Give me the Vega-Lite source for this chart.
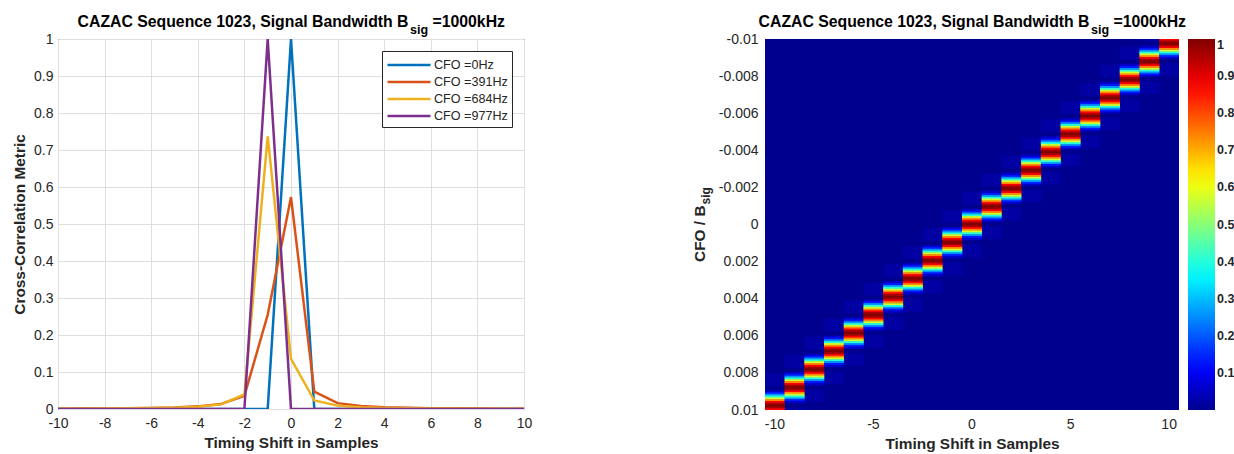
{
  "$schema": "https://vega.github.io/schema/vega-lite/v6.json",
  "background": "white",
  "padding": {"left": 12, "top": 13, "right": 0, "bottom": 0},
  "spacing": 159,
  "config": {
    "font": "Liberation Sans",
    "view": {"stroke": null},
    "axis": {
      "labelFont": "Liberation Sans",
      "labelFontSize": 14,
      "labelColor": "#262626",
      "labelOverlap": false,
      "labelFlush": false,
      "titleFont": "Liberation Sans",
      "titleFontSize": 15.4,
      "titleFontWeight": "bold",
      "titleColor": "#262626",
      "ticks": false,
      "domain": false
    }
  },
  "datasets": {
    "lines": [
      {"x": -10, "y": 0, "s": "CFO =0Hz"}, {"x": -9, "y": 0, "s": "CFO =0Hz"}, {"x": -8, "y": 0, "s": "CFO =0Hz"}, {"x": -7, "y": 0, "s": "CFO =0Hz"}, {"x": -6, "y": 0, "s": "CFO =0Hz"}, {"x": -5, "y": 0, "s": "CFO =0Hz"}, {"x": -4, "y": 0, "s": "CFO =0Hz"}, {"x": -3, "y": 0, "s": "CFO =0Hz"}, {"x": -2, "y": 0, "s": "CFO =0Hz"}, {"x": -1, "y": 0, "s": "CFO =0Hz"}, {"x": 0, "y": 1, "s": "CFO =0Hz"}, {"x": 1, "y": 0, "s": "CFO =0Hz"}, {"x": 2, "y": 0, "s": "CFO =0Hz"}, {"x": 3, "y": 0, "s": "CFO =0Hz"}, {"x": 4, "y": 0, "s": "CFO =0Hz"}, {"x": 5, "y": 0, "s": "CFO =0Hz"}, {"x": 6, "y": 0, "s": "CFO =0Hz"}, {"x": 7, "y": 0, "s": "CFO =0Hz"}, {"x": 8, "y": 0, "s": "CFO =0Hz"}, {"x": 9, "y": 0, "s": "CFO =0Hz"}, {"x": 10, "y": 0, "s": "CFO =0Hz"},
      {"x": -10, "y": 0.001, "s": "CFO =391Hz"}, {"x": -9, "y": 0.0012, "s": "CFO =391Hz"}, {"x": -8, "y": 0.0016, "s": "CFO =391Hz"}, {"x": -7, "y": 0.0021, "s": "CFO =391Hz"}, {"x": -6, "y": 0.0029, "s": "CFO =391Hz"}, {"x": -5, "y": 0.0043, "s": "CFO =391Hz"}, {"x": -4, "y": 0.0071, "s": "CFO =391Hz"}, {"x": -3, "y": 0.0136, "s": "CFO =391Hz"}, {"x": -2, "y": 0.0358, "s": "CFO =391Hz"}, {"x": -1, "y": 0.2546, "s": "CFO =391Hz"}, {"x": 0, "y": 0.5728, "s": "CFO =391Hz"}, {"x": 1, "y": 0.0468, "s": "CFO =391Hz"}, {"x": 2, "y": 0.0159, "s": "CFO =391Hz"}, {"x": 3, "y": 0.0079, "s": "CFO =391Hz"}, {"x": 4, "y": 0.0047, "s": "CFO =391Hz"}, {"x": 5, "y": 0.0031, "s": "CFO =391Hz"}, {"x": 6, "y": 0.0022, "s": "CFO =391Hz"}, {"x": 7, "y": 0.0017, "s": "CFO =391Hz"}, {"x": 8, "y": 0.0013, "s": "CFO =391Hz"}, {"x": 9, "y": 0.001, "s": "CFO =391Hz"}, {"x": 10, "y": 0.0009, "s": "CFO =391Hz"},
      {"x": -10, "y": 0.0008, "s": "CFO =684Hz"}, {"x": -9, "y": 0.001, "s": "CFO =684Hz"}, {"x": -8, "y": 0.0012, "s": "CFO =684Hz"}, {"x": -7, "y": 0.0017, "s": "CFO =684Hz"}, {"x": -6, "y": 0.0024, "s": "CFO =684Hz"}, {"x": -5, "y": 0.0036, "s": "CFO =684Hz"}, {"x": -4, "y": 0.0061, "s": "CFO =684Hz"}, {"x": -3, "y": 0.0125, "s": "CFO =684Hz"}, {"x": -2, "y": 0.0392, "s": "CFO =684Hz"}, {"x": -1, "y": 0.7368, "s": "CFO =684Hz"}, {"x": 0, "y": 0.1353, "s": "CFO =684Hz"}, {"x": 1, "y": 0.023, "s": "CFO =684Hz"}, {"x": 2, "y": 0.0091, "s": "CFO =684Hz"}, {"x": 3, "y": 0.0049, "s": "CFO =684Hz"}, {"x": 4, "y": 0.003, "s": "CFO =684Hz"}, {"x": 5, "y": 0.002, "s": "CFO =684Hz"}, {"x": 6, "y": 0.0015, "s": "CFO =684Hz"}, {"x": 7, "y": 0.0011, "s": "CFO =684Hz"}, {"x": 8, "y": 0.0009, "s": "CFO =684Hz"}, {"x": 9, "y": 0.0007, "s": "CFO =684Hz"}, {"x": 10, "y": 0.0006, "s": "CFO =684Hz"},
      {"x": -10, "y": 0, "s": "CFO =977Hz"}, {"x": -9, "y": 0, "s": "CFO =977Hz"}, {"x": -8, "y": 0, "s": "CFO =977Hz"}, {"x": -7, "y": 0, "s": "CFO =977Hz"}, {"x": -6, "y": 0, "s": "CFO =977Hz"}, {"x": -5, "y": 0, "s": "CFO =977Hz"}, {"x": -4, "y": 0, "s": "CFO =977Hz"}, {"x": -3, "y": 0, "s": "CFO =977Hz"}, {"x": -2, "y": 0, "s": "CFO =977Hz"}, {"x": -1, "y": 1, "s": "CFO =977Hz"}, {"x": 0, "y": 0, "s": "CFO =977Hz"}, {"x": 1, "y": 0, "s": "CFO =977Hz"}, {"x": 2, "y": 0, "s": "CFO =977Hz"}, {"x": 3, "y": 0, "s": "CFO =977Hz"}, {"x": 4, "y": 0, "s": "CFO =977Hz"}, {"x": 5, "y": 0, "s": "CFO =977Hz"}, {"x": 6, "y": 0, "s": "CFO =977Hz"}, {"x": 7, "y": 0, "s": "CFO =977Hz"}, {"x": 8, "y": 0, "s": "CFO =977Hz"}, {"x": 9, "y": 0, "s": "CFO =977Hz"}, {"x": 10, "y": 0, "s": "CFO =977Hz"}
    ],
    "side": [
      {"t": -10, "f": 0.008358, "v": 0.02},
      {"t": -9, "f": 0.007381, "v": 0.02}, {"t": -9, "f": 0.010215, "v": 0.02},
      {"t": -8, "f": 0.006403, "v": 0.02}, {"t": -8, "f": 0.009237, "v": 0.02},
      {"t": -7, "f": 0.005426, "v": 0.02}, {"t": -7, "f": 0.00826, "v": 0.02},
      {"t": -6, "f": 0.004448, "v": 0.02}, {"t": -6, "f": 0.007282, "v": 0.02},
      {"t": -5, "f": 0.003471, "v": 0.02}, {"t": -5, "f": 0.006305, "v": 0.02},
      {"t": -4, "f": 0.002493, "v": 0.02}, {"t": -4, "f": 0.005327, "v": 0.02},
      {"t": -3, "f": 0.001516, "v": 0.02}, {"t": -3, "f": 0.00435, "v": 0.02},
      {"t": -2, "f": 0.000538, "v": 0.02}, {"t": -2, "f": 0.003372, "v": 0.02},
      {"t": -1, "f": -0.000439, "v": 0.02}, {"t": -1, "f": 0.002395, "v": 0.02},
      {"t": 0, "f": -0.001417, "v": 0.02}, {"t": 0, "f": 0.001417, "v": 0.02},
      {"t": 1, "f": -0.002395, "v": 0.02}, {"t": 1, "f": 0.000439, "v": 0.02},
      {"t": 2, "f": -0.003372, "v": 0.02}, {"t": 2, "f": -0.000538, "v": 0.02},
      {"t": 3, "f": -0.00435, "v": 0.02}, {"t": 3, "f": -0.001516, "v": 0.02},
      {"t": 4, "f": -0.005327, "v": 0.02}, {"t": 4, "f": -0.002493, "v": 0.02},
      {"t": 5, "f": -0.006305, "v": 0.02}, {"t": 5, "f": -0.003471, "v": 0.02},
      {"t": 6, "f": -0.007282, "v": 0.02}, {"t": 6, "f": -0.004448, "v": 0.02},
      {"t": 7, "f": -0.00826, "v": 0.02}, {"t": 7, "f": -0.005426, "v": 0.02},
      {"t": 8, "f": -0.009237, "v": 0.02}, {"t": 8, "f": -0.006403, "v": 0.02},
      {"t": 9, "f": -0.010215, "v": 0.02}, {"t": 9, "f": -0.007381, "v": 0.02},
      {"t": 10, "f": -0.008358, "v": 0.02}
    ],
    "heat": [
      {"t": -10, "f": 0.008993, "v": 0.055}, {"t": -10, "f": 0.009091, "v": 0.135}, {"t": -10, "f": 0.009189, "v": 0.255}, {"t": -10, "f": 0.009286, "v": 0.405}, {"t": -10, "f": 0.009384, "v": 0.573}, {"t": -10, "f": 0.009482, "v": 0.737}, {"t": -10, "f": 0.00958, "v": 0.875}, {"t": -10, "f": 0.009677, "v": 0.968}, {"t": -10, "f": 0.009775, "v": 1}, {"t": -10, "f": 0.009873, "v": 0.968}, {"t": -10, "f": 0.009971, "v": 0.875},
      {"t": -9, "f": 0.008016, "v": 0.055}, {"t": -9, "f": 0.008113, "v": 0.135}, {"t": -9, "f": 0.008211, "v": 0.255}, {"t": -9, "f": 0.008309, "v": 0.405}, {"t": -9, "f": 0.008407, "v": 0.573}, {"t": -9, "f": 0.008504, "v": 0.737}, {"t": -9, "f": 0.008602, "v": 0.875}, {"t": -9, "f": 0.0087, "v": 0.968}, {"t": -9, "f": 0.008798, "v": 1}, {"t": -9, "f": 0.008895, "v": 0.968}, {"t": -9, "f": 0.008993, "v": 0.875}, {"t": -9, "f": 0.009091, "v": 0.737}, {"t": -9, "f": 0.009189, "v": 0.573}, {"t": -9, "f": 0.009286, "v": 0.405}, {"t": -9, "f": 0.009384, "v": 0.255}, {"t": -9, "f": 0.009482, "v": 0.135}, {"t": -9, "f": 0.00958, "v": 0.055},
      {"t": -8, "f": 0.007038, "v": 0.055}, {"t": -8, "f": 0.007136, "v": 0.135}, {"t": -8, "f": 0.007234, "v": 0.255}, {"t": -8, "f": 0.007331, "v": 0.405}, {"t": -8, "f": 0.007429, "v": 0.573}, {"t": -8, "f": 0.007527, "v": 0.737}, {"t": -8, "f": 0.007625, "v": 0.875}, {"t": -8, "f": 0.007722, "v": 0.968}, {"t": -8, "f": 0.00782, "v": 1}, {"t": -8, "f": 0.007918, "v": 0.968}, {"t": -8, "f": 0.008016, "v": 0.875}, {"t": -8, "f": 0.008113, "v": 0.737}, {"t": -8, "f": 0.008211, "v": 0.573}, {"t": -8, "f": 0.008309, "v": 0.405}, {"t": -8, "f": 0.008407, "v": 0.255}, {"t": -8, "f": 0.008504, "v": 0.135}, {"t": -8, "f": 0.008602, "v": 0.055},
      {"t": -7, "f": 0.006061, "v": 0.055}, {"t": -7, "f": 0.006158, "v": 0.135}, {"t": -7, "f": 0.006256, "v": 0.255}, {"t": -7, "f": 0.006354, "v": 0.405}, {"t": -7, "f": 0.006452, "v": 0.573}, {"t": -7, "f": 0.006549, "v": 0.737}, {"t": -7, "f": 0.006647, "v": 0.875}, {"t": -7, "f": 0.006745, "v": 0.968}, {"t": -7, "f": 0.006843, "v": 1}, {"t": -7, "f": 0.00694, "v": 0.968}, {"t": -7, "f": 0.007038, "v": 0.875}, {"t": -7, "f": 0.007136, "v": 0.737}, {"t": -7, "f": 0.007234, "v": 0.573}, {"t": -7, "f": 0.007331, "v": 0.405}, {"t": -7, "f": 0.007429, "v": 0.255}, {"t": -7, "f": 0.007527, "v": 0.135}, {"t": -7, "f": 0.007625, "v": 0.055},
      {"t": -6, "f": 0.005083, "v": 0.055}, {"t": -6, "f": 0.005181, "v": 0.135}, {"t": -6, "f": 0.005279, "v": 0.255}, {"t": -6, "f": 0.005376, "v": 0.405}, {"t": -6, "f": 0.005474, "v": 0.573}, {"t": -6, "f": 0.005572, "v": 0.737}, {"t": -6, "f": 0.00567, "v": 0.875}, {"t": -6, "f": 0.005767, "v": 0.968}, {"t": -6, "f": 0.005865, "v": 1}, {"t": -6, "f": 0.005963, "v": 0.968}, {"t": -6, "f": 0.006061, "v": 0.875}, {"t": -6, "f": 0.006158, "v": 0.737}, {"t": -6, "f": 0.006256, "v": 0.573}, {"t": -6, "f": 0.006354, "v": 0.405}, {"t": -6, "f": 0.006452, "v": 0.255}, {"t": -6, "f": 0.006549, "v": 0.135}, {"t": -6, "f": 0.006647, "v": 0.055},
      {"t": -5, "f": 0.004106, "v": 0.055}, {"t": -5, "f": 0.004203, "v": 0.135}, {"t": -5, "f": 0.004301, "v": 0.255}, {"t": -5, "f": 0.004399, "v": 0.405}, {"t": -5, "f": 0.004497, "v": 0.573}, {"t": -5, "f": 0.004594, "v": 0.737}, {"t": -5, "f": 0.004692, "v": 0.875}, {"t": -5, "f": 0.00479, "v": 0.968}, {"t": -5, "f": 0.004888, "v": 1}, {"t": -5, "f": 0.004985, "v": 0.968}, {"t": -5, "f": 0.005083, "v": 0.875}, {"t": -5, "f": 0.005181, "v": 0.737}, {"t": -5, "f": 0.005279, "v": 0.573}, {"t": -5, "f": 0.005376, "v": 0.405}, {"t": -5, "f": 0.005474, "v": 0.255}, {"t": -5, "f": 0.005572, "v": 0.135}, {"t": -5, "f": 0.00567, "v": 0.055},
      {"t": -4, "f": 0.003128, "v": 0.055}, {"t": -4, "f": 0.003226, "v": 0.135}, {"t": -4, "f": 0.003324, "v": 0.255}, {"t": -4, "f": 0.003421, "v": 0.405}, {"t": -4, "f": 0.003519, "v": 0.573}, {"t": -4, "f": 0.003617, "v": 0.737}, {"t": -4, "f": 0.003715, "v": 0.875}, {"t": -4, "f": 0.003812, "v": 0.968}, {"t": -4, "f": 0.00391, "v": 1}, {"t": -4, "f": 0.004008, "v": 0.968}, {"t": -4, "f": 0.004106, "v": 0.875}, {"t": -4, "f": 0.004203, "v": 0.737}, {"t": -4, "f": 0.004301, "v": 0.573}, {"t": -4, "f": 0.004399, "v": 0.405}, {"t": -4, "f": 0.004497, "v": 0.255}, {"t": -4, "f": 0.004594, "v": 0.135}, {"t": -4, "f": 0.004692, "v": 0.055},
      {"t": -3, "f": 0.002151, "v": 0.055}, {"t": -3, "f": 0.002248, "v": 0.135}, {"t": -3, "f": 0.002346, "v": 0.255}, {"t": -3, "f": 0.002444, "v": 0.405}, {"t": -3, "f": 0.002542, "v": 0.573}, {"t": -3, "f": 0.002639, "v": 0.737}, {"t": -3, "f": 0.002737, "v": 0.875}, {"t": -3, "f": 0.002835, "v": 0.968}, {"t": -3, "f": 0.002933, "v": 1}, {"t": -3, "f": 0.00303, "v": 0.968}, {"t": -3, "f": 0.003128, "v": 0.875}, {"t": -3, "f": 0.003226, "v": 0.737}, {"t": -3, "f": 0.003324, "v": 0.573}, {"t": -3, "f": 0.003421, "v": 0.405}, {"t": -3, "f": 0.003519, "v": 0.255}, {"t": -3, "f": 0.003617, "v": 0.135}, {"t": -3, "f": 0.003715, "v": 0.055},
      {"t": -2, "f": 0.001173, "v": 0.055}, {"t": -2, "f": 0.001271, "v": 0.135}, {"t": -2, "f": 0.001369, "v": 0.255}, {"t": -2, "f": 0.001466, "v": 0.405}, {"t": -2, "f": 0.001564, "v": 0.573}, {"t": -2, "f": 0.001662, "v": 0.737}, {"t": -2, "f": 0.00176, "v": 0.875}, {"t": -2, "f": 0.001857, "v": 0.968}, {"t": -2, "f": 0.001955, "v": 1}, {"t": -2, "f": 0.002053, "v": 0.968}, {"t": -2, "f": 0.002151, "v": 0.875}, {"t": -2, "f": 0.002248, "v": 0.737}, {"t": -2, "f": 0.002346, "v": 0.573}, {"t": -2, "f": 0.002444, "v": 0.405}, {"t": -2, "f": 0.002542, "v": 0.255}, {"t": -2, "f": 0.002639, "v": 0.135}, {"t": -2, "f": 0.002737, "v": 0.055},
      {"t": -1, "f": 0.000196, "v": 0.055}, {"t": -1, "f": 0.000293, "v": 0.135}, {"t": -1, "f": 0.000391, "v": 0.255}, {"t": -1, "f": 0.000489, "v": 0.405}, {"t": -1, "f": 0.000587, "v": 0.573}, {"t": -1, "f": 0.000684, "v": 0.737}, {"t": -1, "f": 0.000782, "v": 0.875}, {"t": -1, "f": 0.00088, "v": 0.968}, {"t": -1, "f": 0.000978, "v": 1}, {"t": -1, "f": 0.001075, "v": 0.968}, {"t": -1, "f": 0.001173, "v": 0.875}, {"t": -1, "f": 0.001271, "v": 0.737}, {"t": -1, "f": 0.001369, "v": 0.573}, {"t": -1, "f": 0.001466, "v": 0.405}, {"t": -1, "f": 0.001564, "v": 0.255}, {"t": -1, "f": 0.001662, "v": 0.135}, {"t": -1, "f": 0.00176, "v": 0.055},
      {"t": 0, "f": -0.000782, "v": 0.055}, {"t": 0, "f": -0.000684, "v": 0.135}, {"t": 0, "f": -0.000587, "v": 0.255}, {"t": 0, "f": -0.000489, "v": 0.405}, {"t": 0, "f": -0.000391, "v": 0.573}, {"t": 0, "f": -0.000293, "v": 0.737}, {"t": 0, "f": -0.000196, "v": 0.875}, {"t": 0, "f": -0.000098, "v": 0.968}, {"t": 0, "f": 0, "v": 1}, {"t": 0, "f": 0.000098, "v": 0.968}, {"t": 0, "f": 0.000196, "v": 0.875}, {"t": 0, "f": 0.000293, "v": 0.737}, {"t": 0, "f": 0.000391, "v": 0.573}, {"t": 0, "f": 0.000489, "v": 0.405}, {"t": 0, "f": 0.000587, "v": 0.255}, {"t": 0, "f": 0.000684, "v": 0.135}, {"t": 0, "f": 0.000782, "v": 0.055},
      {"t": 1, "f": -0.000196, "v": 0.055}, {"t": 1, "f": -0.000293, "v": 0.135}, {"t": 1, "f": -0.000391, "v": 0.255}, {"t": 1, "f": -0.000489, "v": 0.405}, {"t": 1, "f": -0.000587, "v": 0.573}, {"t": 1, "f": -0.000684, "v": 0.737}, {"t": 1, "f": -0.000782, "v": 0.875}, {"t": 1, "f": -0.00088, "v": 0.968}, {"t": 1, "f": -0.000978, "v": 1}, {"t": 1, "f": -0.001075, "v": 0.968}, {"t": 1, "f": -0.001173, "v": 0.875}, {"t": 1, "f": -0.001271, "v": 0.737}, {"t": 1, "f": -0.001369, "v": 0.573}, {"t": 1, "f": -0.001466, "v": 0.405}, {"t": 1, "f": -0.001564, "v": 0.255}, {"t": 1, "f": -0.001662, "v": 0.135}, {"t": 1, "f": -0.00176, "v": 0.055},
      {"t": 2, "f": -0.001173, "v": 0.055}, {"t": 2, "f": -0.001271, "v": 0.135}, {"t": 2, "f": -0.001369, "v": 0.255}, {"t": 2, "f": -0.001466, "v": 0.405}, {"t": 2, "f": -0.001564, "v": 0.573}, {"t": 2, "f": -0.001662, "v": 0.737}, {"t": 2, "f": -0.00176, "v": 0.875}, {"t": 2, "f": -0.001857, "v": 0.968}, {"t": 2, "f": -0.001955, "v": 1}, {"t": 2, "f": -0.002053, "v": 0.968}, {"t": 2, "f": -0.002151, "v": 0.875}, {"t": 2, "f": -0.002248, "v": 0.737}, {"t": 2, "f": -0.002346, "v": 0.573}, {"t": 2, "f": -0.002444, "v": 0.405}, {"t": 2, "f": -0.002542, "v": 0.255}, {"t": 2, "f": -0.002639, "v": 0.135}, {"t": 2, "f": -0.002737, "v": 0.055},
      {"t": 3, "f": -0.002151, "v": 0.055}, {"t": 3, "f": -0.002248, "v": 0.135}, {"t": 3, "f": -0.002346, "v": 0.255}, {"t": 3, "f": -0.002444, "v": 0.405}, {"t": 3, "f": -0.002542, "v": 0.573}, {"t": 3, "f": -0.002639, "v": 0.737}, {"t": 3, "f": -0.002737, "v": 0.875}, {"t": 3, "f": -0.002835, "v": 0.968}, {"t": 3, "f": -0.002933, "v": 1}, {"t": 3, "f": -0.00303, "v": 0.968}, {"t": 3, "f": -0.003128, "v": 0.875}, {"t": 3, "f": -0.003226, "v": 0.737}, {"t": 3, "f": -0.003324, "v": 0.573}, {"t": 3, "f": -0.003421, "v": 0.405}, {"t": 3, "f": -0.003519, "v": 0.255}, {"t": 3, "f": -0.003617, "v": 0.135}, {"t": 3, "f": -0.003715, "v": 0.055},
      {"t": 4, "f": -0.003128, "v": 0.055}, {"t": 4, "f": -0.003226, "v": 0.135}, {"t": 4, "f": -0.003324, "v": 0.255}, {"t": 4, "f": -0.003421, "v": 0.405}, {"t": 4, "f": -0.003519, "v": 0.573}, {"t": 4, "f": -0.003617, "v": 0.737}, {"t": 4, "f": -0.003715, "v": 0.875}, {"t": 4, "f": -0.003812, "v": 0.968}, {"t": 4, "f": -0.00391, "v": 1}, {"t": 4, "f": -0.004008, "v": 0.968}, {"t": 4, "f": -0.004106, "v": 0.875}, {"t": 4, "f": -0.004203, "v": 0.737}, {"t": 4, "f": -0.004301, "v": 0.573}, {"t": 4, "f": -0.004399, "v": 0.405}, {"t": 4, "f": -0.004497, "v": 0.255}, {"t": 4, "f": -0.004594, "v": 0.135}, {"t": 4, "f": -0.004692, "v": 0.055},
      {"t": 5, "f": -0.004106, "v": 0.055}, {"t": 5, "f": -0.004203, "v": 0.135}, {"t": 5, "f": -0.004301, "v": 0.255}, {"t": 5, "f": -0.004399, "v": 0.405}, {"t": 5, "f": -0.004497, "v": 0.573}, {"t": 5, "f": -0.004594, "v": 0.737}, {"t": 5, "f": -0.004692, "v": 0.875}, {"t": 5, "f": -0.00479, "v": 0.968}, {"t": 5, "f": -0.004888, "v": 1}, {"t": 5, "f": -0.004985, "v": 0.968}, {"t": 5, "f": -0.005083, "v": 0.875}, {"t": 5, "f": -0.005181, "v": 0.737}, {"t": 5, "f": -0.005279, "v": 0.573}, {"t": 5, "f": -0.005376, "v": 0.405}, {"t": 5, "f": -0.005474, "v": 0.255}, {"t": 5, "f": -0.005572, "v": 0.135}, {"t": 5, "f": -0.00567, "v": 0.055},
      {"t": 6, "f": -0.005083, "v": 0.055}, {"t": 6, "f": -0.005181, "v": 0.135}, {"t": 6, "f": -0.005279, "v": 0.255}, {"t": 6, "f": -0.005376, "v": 0.405}, {"t": 6, "f": -0.005474, "v": 0.573}, {"t": 6, "f": -0.005572, "v": 0.737}, {"t": 6, "f": -0.00567, "v": 0.875}, {"t": 6, "f": -0.005767, "v": 0.968}, {"t": 6, "f": -0.005865, "v": 1}, {"t": 6, "f": -0.005963, "v": 0.968}, {"t": 6, "f": -0.006061, "v": 0.875}, {"t": 6, "f": -0.006158, "v": 0.737}, {"t": 6, "f": -0.006256, "v": 0.573}, {"t": 6, "f": -0.006354, "v": 0.405}, {"t": 6, "f": -0.006452, "v": 0.255}, {"t": 6, "f": -0.006549, "v": 0.135}, {"t": 6, "f": -0.006647, "v": 0.055},
      {"t": 7, "f": -0.006061, "v": 0.055}, {"t": 7, "f": -0.006158, "v": 0.135}, {"t": 7, "f": -0.006256, "v": 0.255}, {"t": 7, "f": -0.006354, "v": 0.405}, {"t": 7, "f": -0.006452, "v": 0.573}, {"t": 7, "f": -0.006549, "v": 0.737}, {"t": 7, "f": -0.006647, "v": 0.875}, {"t": 7, "f": -0.006745, "v": 0.968}, {"t": 7, "f": -0.006843, "v": 1}, {"t": 7, "f": -0.00694, "v": 0.968}, {"t": 7, "f": -0.007038, "v": 0.875}, {"t": 7, "f": -0.007136, "v": 0.737}, {"t": 7, "f": -0.007234, "v": 0.573}, {"t": 7, "f": -0.007331, "v": 0.405}, {"t": 7, "f": -0.007429, "v": 0.255}, {"t": 7, "f": -0.007527, "v": 0.135}, {"t": 7, "f": -0.007625, "v": 0.055},
      {"t": 8, "f": -0.007038, "v": 0.055}, {"t": 8, "f": -0.007136, "v": 0.135}, {"t": 8, "f": -0.007234, "v": 0.255}, {"t": 8, "f": -0.007331, "v": 0.405}, {"t": 8, "f": -0.007429, "v": 0.573}, {"t": 8, "f": -0.007527, "v": 0.737}, {"t": 8, "f": -0.007625, "v": 0.875}, {"t": 8, "f": -0.007722, "v": 0.968}, {"t": 8, "f": -0.00782, "v": 1}, {"t": 8, "f": -0.007918, "v": 0.968}, {"t": 8, "f": -0.008016, "v": 0.875}, {"t": 8, "f": -0.008113, "v": 0.737}, {"t": 8, "f": -0.008211, "v": 0.573}, {"t": 8, "f": -0.008309, "v": 0.405}, {"t": 8, "f": -0.008407, "v": 0.255}, {"t": 8, "f": -0.008504, "v": 0.135}, {"t": 8, "f": -0.008602, "v": 0.055},
      {"t": 9, "f": -0.008016, "v": 0.055}, {"t": 9, "f": -0.008113, "v": 0.135}, {"t": 9, "f": -0.008211, "v": 0.255}, {"t": 9, "f": -0.008309, "v": 0.405}, {"t": 9, "f": -0.008407, "v": 0.573}, {"t": 9, "f": -0.008504, "v": 0.737}, {"t": 9, "f": -0.008602, "v": 0.875}, {"t": 9, "f": -0.0087, "v": 0.968}, {"t": 9, "f": -0.008798, "v": 1}, {"t": 9, "f": -0.008895, "v": 0.968}, {"t": 9, "f": -0.008993, "v": 0.875}, {"t": 9, "f": -0.009091, "v": 0.737}, {"t": 9, "f": -0.009189, "v": 0.573}, {"t": 9, "f": -0.009286, "v": 0.405}, {"t": 9, "f": -0.009384, "v": 0.255}, {"t": 9, "f": -0.009482, "v": 0.135}, {"t": 9, "f": -0.00958, "v": 0.055},
      {"t": 10, "f": -0.008993, "v": 0.055}, {"t": 10, "f": -0.009091, "v": 0.135}, {"t": 10, "f": -0.009189, "v": 0.255}, {"t": 10, "f": -0.009286, "v": 0.405}, {"t": 10, "f": -0.009384, "v": 0.573}, {"t": 10, "f": -0.009482, "v": 0.737}, {"t": 10, "f": -0.00958, "v": 0.875}, {"t": 10, "f": -0.009677, "v": 0.968}, {"t": 10, "f": -0.009775, "v": 1}, {"t": 10, "f": -0.009873, "v": 0.968}, {"t": 10, "f": -0.009971, "v": 0.875}
    ]
  },
  "hconcat": [
    {
      "width": 466,
      "height": 370,
      "view": {"stroke": "#262626", "strokeWidth": 1, "fill": "white"},
      "layer": [
        {
          "data": {"name": "lines"},
          "mark": {"type": "line", "strokeWidth": 2.5, "clip": true},
          "encoding": {
            "x": {
              "field": "x", "type": "quantitative",
              "scale": {"domain": [-10, 10], "nice": false, "zero": false},
              "axis": {"values": [-10, -8, -6, -4, -2, 0, 2, 4, 6, 8, 10], "tickCount": 30, "labelExpr": "'' + datum.value", "grid": true, "gridColor": "#dfdfdf", "labelPadding": 7, "titlePadding": 5, "title": "Timing Shift in Samples"}
            },
            "y": {
              "field": "y", "type": "quantitative",
              "scale": {"domain": [0, 1], "nice": false, "zero": false},
              "axis": {"values": [0, 0.1, 0.2, 0.3, 0.4, 0.5, 0.6, 0.7, 0.8, 0.9, 1], "tickCount": 30, "labelExpr": "'' + datum.value", "grid": true, "gridColor": "#dfdfdf", "labelPadding": 5, "titlePadding": 6, "title": "Cross-Correlation Metric"}
            },
            "color": {
              "field": "s", "type": "nominal",
              "scale": {"domain": ["CFO =0Hz", "CFO =391Hz", "CFO =684Hz", "CFO =977Hz"], "range": ["#0072BD", "#D95319", "#EDB120", "#7E2F8E"]},
              "legend": {"title": null, "orient": "top-right", "offset": 12, "symbolType": "M-2.53,0H2.53", "symbolSize": 289, "symbolStrokeWidth": 2.5, "symbolOffset": 13, "labelFontSize": 12.6, "labelFont": "Liberation Sans", "labelColor": "#262626", "fillColor": "white", "strokeColor": "#262626", "padding": 4, "rowPadding": 0, "labelOffset": 15}
            }
          }
        },
        {
          "data": {"values": [{}]},
          "mark": {"type": "text", "text": "CAZAC Sequence 1023, Signal Bandwidth B", "align": "right", "baseline": "alphabetic", "dx": 117.5, "dy": -12, "fontSize": 15.8, "fontWeight": "bold", "font": "Liberation Sans", "color": "black"},
          "encoding": {"x": {"datum": 0, "type": "quantitative"}, "y": {"datum": 1, "type": "quantitative"}}
        },
        {
          "data": {"values": [{}]},
          "mark": {"type": "text", "text": "sig", "align": "left", "baseline": "alphabetic", "dx": 119, "dy": -5, "fontSize": 12.5, "fontWeight": "bold", "font": "Liberation Sans", "color": "black"},
          "encoding": {"x": {"datum": 0, "type": "quantitative"}, "y": {"datum": 1, "type": "quantitative"}}
        },
        {
          "data": {"values": [{}]},
          "mark": {"type": "text", "text": "=1000kHz", "align": "left", "baseline": "alphabetic", "dx": 141.5, "dy": -12, "fontSize": 15.8, "fontWeight": "bold", "font": "Liberation Sans", "color": "black"},
          "encoding": {"x": {"datum": 0, "type": "quantitative"}, "y": {"datum": 1, "type": "quantitative"}}
        }
      ]
    },
    {
      "width": 414,
      "height": 371,
      "view": {"fill": "#00008f", "stroke": null},
      "layer": [
        {
          "data": {"name": "side"},
          "mark": {"type": "tick", "orient": "horizontal", "thickness": 12.7, "size": 20, "opacity": 1, "clip": true},
          "encoding": {
            "x": {
              "field": "t", "type": "ordinal",
              "scale": {"domain": [-10, -9, -8, -7, -6, -5, -4, -3, -2, -1, 0, 1, 2, 3, 4, 5, 6, 7, 8, 9, 10], "paddingInner": 0, "paddingOuter": 0},
              "axis": {"values": [-10, -5, 0, 5, 10], "labelAngle": 0, "title": "Timing Shift in Samples", "labelPadding": 7, "titlePadding": 5}
            },
            "y": {
              "field": "f", "type": "quantitative",
              "scale": {"domain": [-0.01, 0.01], "reverse": true, "nice": false, "zero": false},
              "axis": {"values": [-0.01, -0.008, -0.006, -0.004, -0.002, 0, 0.002, 0.004, 0.006, 0.008, 0.01], "tickCount": 30, "labelExpr": "'' + datum.value", "title": null, "labelPadding": 7, "grid": false}
            },
            "color": {
              "field": "v", "type": "quantitative",
              "scale": {"domain": [0, 0.111, 0.365, 0.619, 0.873, 1], "range": ["#00008f", "#0000ff", "#00ffff", "#ffff00", "#ff0000", "#800000"], "interpolate": "rgb"},
              "legend": {"title": null, "orient": "right", "offset": 9, "direction": "vertical", "gradientLength": 371, "gradientThickness": 27, "values": [0.1, 0.2, 0.3, 0.4, 0.5, 0.6, 0.7, 0.8, 0.9, 1], "labelExpr": "'' + datum.value", "labelFontSize": 12.5, "labelFontWeight": "bold", "labelFont": "Liberation Sans", "labelColor": "#262626", "labelOffset": 2, "padding": 0, "gradientStrokeWidth": 0}
            }
          }
        },
        {
          "data": {"name": "heat"},
          "mark": {"type": "tick", "orient": "horizontal", "thickness": 2.3, "size": 20, "opacity": 1, "clip": true},
          "encoding": {
            "x": {"field": "t", "type": "ordinal"},
            "y": {"field": "f", "type": "quantitative"},
            "color": {"field": "v", "type": "quantitative"}
          }
        },
        {
          "data": {"values": [{}]},
          "mark": {"type": "text", "text": "CAZAC Sequence 1023, Signal Bandwidth B", "align": "right", "baseline": "alphabetic", "dx": 117.5, "dy": -12, "fontSize": 15.8, "fontWeight": "bold", "font": "Liberation Sans", "color": "black"},
          "encoding": {"x": {"datum": 0, "type": "ordinal"}, "y": {"datum": -0.01, "type": "quantitative"}}
        },
        {
          "data": {"values": [{}]},
          "mark": {"type": "text", "text": "sig", "align": "left", "baseline": "alphabetic", "dx": 119, "dy": -5, "fontSize": 12.5, "fontWeight": "bold", "font": "Liberation Sans", "color": "black"},
          "encoding": {"x": {"datum": 0, "type": "ordinal"}, "y": {"datum": -0.01, "type": "quantitative"}}
        },
        {
          "data": {"values": [{}]},
          "mark": {"type": "text", "text": "=1000kHz", "align": "left", "baseline": "alphabetic", "dx": 141.5, "dy": -12, "fontSize": 15.8, "fontWeight": "bold", "font": "Liberation Sans", "color": "black"},
          "encoding": {"x": {"datum": 0, "type": "ordinal"}, "y": {"datum": -0.01, "type": "quantitative"}}
        },
        {
          "data": {"values": [{}]},
          "mark": {"type": "text", "text": "CFO / B", "angle": 270, "align": "right", "baseline": "alphabetic", "dx": 19, "dy": -70, "fontSize": 15.4, "fontWeight": "bold", "font": "Liberation Sans", "color": "#262626"},
          "encoding": {"x": {"datum": -10, "type": "ordinal"}, "y": {"datum": 0, "type": "quantitative"}}
        },
        {
          "data": {"values": [{}]},
          "mark": {"type": "text", "text": "sig", "angle": 270, "align": "left", "baseline": "alphabetic", "dx": 20, "dy": -65, "fontSize": 12, "fontWeight": "bold", "font": "Liberation Sans", "color": "#262626"},
          "encoding": {"x": {"datum": -10, "type": "ordinal"}, "y": {"datum": 0, "type": "quantitative"}}
        }
      ]
    }
  ],
  "resolve": {"scale": {"color": "independent", "x": "independent", "y": "independent"}, "legend": {"color": "independent"}}
}
